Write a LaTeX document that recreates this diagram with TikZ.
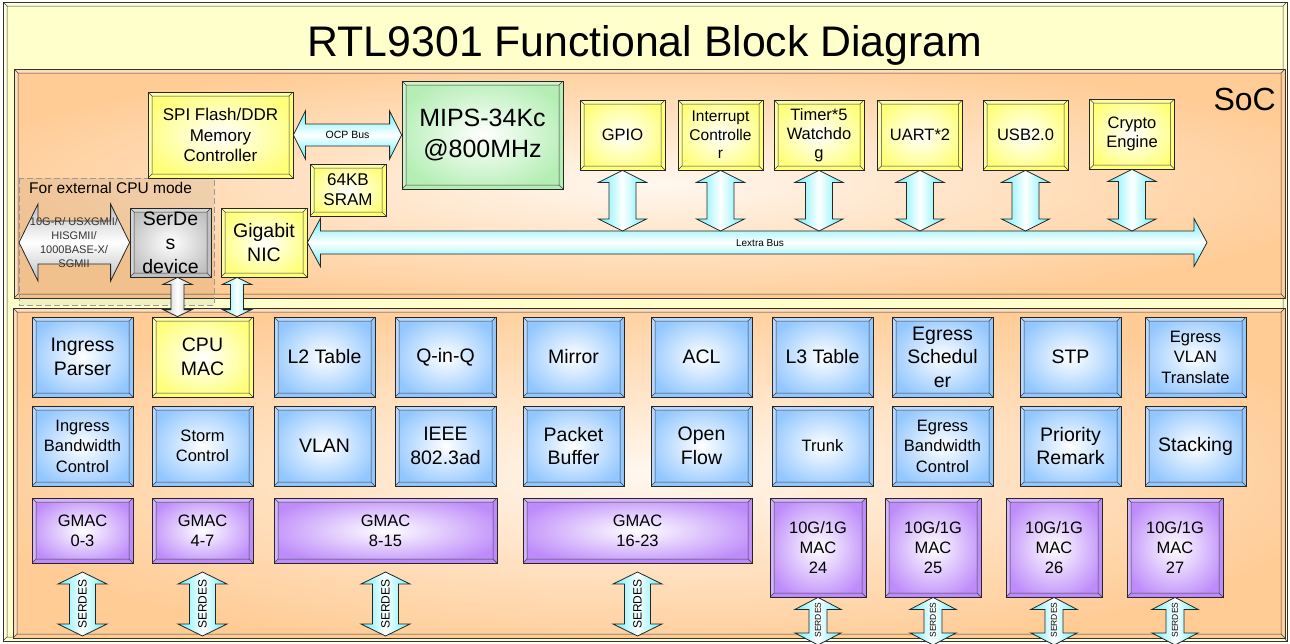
\documentclass[tikz,border=0pt]{standalone}
\usepackage{fontspec}
\setmainfont{Liberation Sans}
\usetikzlibrary{calc}

\definecolor{framey}{RGB}{255,255,204}
\definecolor{socor}{RGB}{255,204,150}
\definecolor{blkblue}{RGB}{145,198,255}
\definecolor{blkyel}{RGB}{255,255,120}
\definecolor{blkpur}{RGB}{190,140,250}
\definecolor{blkgrn}{RGB}{180,238,180}
\definecolor{blkgry}{RGB}{192,192,192}
\definecolor{buscyan}{RGB}{100,240,250}

\colorlet{glowcore}{white}
\colorlet{glowrim}{gray}
\pgfdeclareradialshading[glowcore,glowrim]{glow}{\pgfpointorigin}{color(0bp)=(glowcore); color(28bp)=(glowrim); color(50bp)=(glowrim)}

\newcommand\blkbig{\fontsize{19.5}{23.5}\selectfont}
\newcommand\blkmid{\fontsize{16.5}{20.5}\selectfont}
\newcommand\blksoc{\fontsize{16.5}{19}\selectfont}
\newcommand\blkmac{\fontsize{16.5}{20}\selectfont}

% fat double arrows between two points
\newcommand\vfat[6][]{%
  \path[vbus,#1] let \p1=(#2), \p2=(#3) in
    (\x1,\y1) -- (\x1+#4,\y1-#6) -- (\x1+#5,\y1-#6) -- (\x1+#5,\y2+#6)
    -- (\x1+#4,\y2+#6) -- (\x1,\y2) -- (\x1-#4,\y2+#6) -- (\x1-#5,\y2+#6)
    -- (\x1-#5,\y1-#6) -- (\x1-#4,\y1-#6) -- cycle;}
\newcommand\hfat[6][]{%
  \path[hbus,#1] let \p1=(#2), \p2=(#3) in
    (\x1,\y1) -- (\x1+#6,\y1+#4) -- (\x1+#6,\y1+#5) -- (\x2-#6,\y1+#5)
    -- (\x2-#6,\y1+#4) -- (\x2,\y1) -- (\x2-#6,\y1-#4) -- (\x2-#6,\y1-#5)
    -- (\x1+#6,\y1-#5) -- (\x1+#6,\y1-#4) -- cycle;}

\begin{document}
\begin{tikzpicture}[x=1pt,y=-1pt,
  bevel/.style={path picture={
    \fill[glowrim,even odd rule] (path picture bounding box.south west) rectangle (path picture bounding box.north east)
      ([shift={(4pt,4pt)}]path picture bounding box.south west) rectangle ([shift={(-4pt,-4pt)}]path picture bounding box.north east);
    \fill[white,opacity=.35] (path picture bounding box.south west) -- ++(4pt,4pt) |- ([shift={(-4pt,-4pt)}]path picture bounding box.north east)
      -- (path picture bounding box.north east) -| cycle;
    \draw[black!75,line width=0.5pt]
      ([shift={(4pt,4pt)}]path picture bounding box.south west) rectangle ([shift={(-4pt,-4pt)}]path picture bounding box.north east)
      (path picture bounding box.south west) -- ++(4pt,4pt)
      (path picture bounding box.south east) -- ++(-4pt,4pt)
      (path picture bounding box.north west) -- ++(4pt,-4pt)
      (path picture bounding box.north east) -- ++(-4pt,-4pt);}},
  glowfill/.style 2 args={/utils/exec={\colorlet{glowcore}{#1}\colorlet{glowrim}{#2}},shade,shading=glow},
  sz/.style 2 args={minimum width=#1,minimum height=#2},
  blk/.style={draw=black!85,line width=0.8pt,inner sep=0pt,align=center,font=\blkbig,bevel},
  bblk/.style={blk,glowfill={white}{blkblue},sz={101}{80}},
  yblk/.style={blk,glowfill={white}{blkyel}},
  pblk/.style={blk,glowfill={white}{blkpur},font=\blkmac},
  gblk/.style={blk,glowfill={white}{blkgrn}},
  sblk/.style={blk,glowfill={white}{blkgry}},
  topblk/.style={yblk,sz={85}{70},font=\blksoc},
  region/.style={draw=black!80,line width=0.8pt,bevel},
  vbus/.style={draw=black!85,line width=0.8pt,left color=buscyan,right color=buscyan,middle color=white},
  hbus/.style={draw=black!85,line width=0.8pt,top color=buscyan,bottom color=buscyan,middle color=white},
  gvbus/.style={left color=blkgry,right color=blkgry,middle color=white},
  ghbus/.style={top color=blkgry,bottom color=blkgry,middle color=white},
  buslbl/.style={inner sep=0pt,font=\fontsize{10.5}{12}\selectfont},
  sdlbl/.style={inner sep=0pt,rotate=90,font=\fontsize{12}{14}\selectfont},
  extbox/.style={draw=gray!80,dash pattern=on 6pt off 3pt,fill=black,fill opacity=.06}]
\useasboundingbox (0,0) rectangle (1290,643);

\path[region,glowfill={framey}{framey}] (3,2) rectangle (1287,641);
\node[anchor=base,inner sep=0pt,font=\fontsize{42.8}{48}\selectfont] (title) at (645,56) {RTL9301 Functional Block Diagram};

\path[region,glowfill={socor!15!white}{socor}] (14,69) rectangle (1285,298);
\path[region,glowfill={socor!15!white}{socor}] (13,308) rectangle (1285,638);
\node[anchor=base east,inner sep=0pt,font=\fontsize{32}{36}\selectfont] (soc) at (1276,110) {SoC};

\draw[extbox] (19,178) rectangle (214,305);
\node[anchor=base west,inner sep=0pt,font=\fontsize{15.5}{18}\selectfont] (extcpu) at (29,193) {For external CPU mode};

\node[yblk,sz={145}{86},font=\fontsize{17}{20.5}\selectfont] (spi) at (220.5,135) {SPI Flash/DDR\\Memory\\Controller};
\node[gblk,sz={161}{108},font=\fontsize{25}{31}\selectfont] (mips) at (482.5,135) {MIPS-34Kc\\@800MHz};
\node[yblk,sz={76}{52},font=\fontsize{17}{20}\selectfont] (sram) at (348,190) {64KB\\SRAM};
\node[yblk,sz={86}{69}] (nic) at (264,242.5) {Gigabit\\NIC};
\node[sblk,sz={81}{69},label={[font=\fontsize{19.5}{24}\selectfont,align=center]center:SerDe\\s\\device}] (serdes) at (170.5,242.5) {};

\node[topblk] (gpio) at (622.5,135) {GPIO};
\node[topblk,font=\fontsize{15.5}{18.5}\selectfont] (irq) at (720.5,135) {Interrupt\\Controlle\\r};
\node[topblk,sz={90}{70},font=\fontsize{16.5}{19}\selectfont] (timer) at (819,135) {Timer*5\\Watchdo\\g};
\node[topblk] (uart) at (920,135) {UART*2};
\node[topblk] (usb) at (1025.5,135) {USB2.0};
\node[topblk] (crypto) at (1132,134) {Crypto\\Engine};

\hfat{spi.east}{mips.west}{24pt}{11pt}{12pt}
\node[buslbl] (ocp) at ($(spi.east)!.5!(mips.west)$) {OCP Bus};

\coordinate (lxend) at (1207,242.5);
\hfat{nic.east}{lxend}{24pt}{11.5pt}{13pt}
\node[buslbl,font=\fontsize{10}{12}\selectfont] (lextra) at (760,243) {Lextra Bus};

\coordinate (bustop) at (0,231);
\foreach \b in {gpio,irq,timer,uart,usb,crypto}
  {\vfat{\b.south}{\b.south |- bustop}{24pt}{13.5pt}{12pt}}

\coordinate (extend) at (19,242.5);
\hfat[ghbus]{extend}{serdes.west}{38.5pt}{21.5pt}{19pt}
\node[inner sep=0pt,align=center,text=black!80,font=\fontsize{11}{14}\selectfont] (extif) at (74,243) {10G-R/ USXGMII/\\HISGMII/\\1000BASE-X/\\SGMII};

\node[bblk] (ingp) at (82.5,357) {Ingress\\Parser};
\node[yblk,sz={101}{80}] (cpumac) at (202.5,357) {CPU\\MAC};
\node[bblk] (l2) at (324.5,357) {L2 Table};
\node[bblk] (qinq) at (445.5,357) {Q-in-Q};
\node[bblk] (mirror) at (573.5,357) {Mirror};
\node[bblk] (acl) at (701.5,357) {ACL};
\node[bblk] (l3) at (822.5,357) {L3 Table};
\node[bblk] (egsch) at (942.5,357) {Egress\\Schedul\\er};
\node[bblk] (stp) at (1070.5,357) {STP};
\node[bblk,font=\blkmid] (egvlan) at (1195.5,357) {Egress\\VLAN\\Translate};

\node[bblk,font=\blkmid] (ingbw) at (82.5,446) {Ingress\\Bandwidth\\Control};
\node[bblk,font=\blkmid] (storm) at (202.5,446) {Storm\\Control};
\node[bblk] (vlan) at (324.5,446) {VLAN};
\node[bblk] (ieee) at (445.5,446) {IEEE\\802.3ad};
\node[bblk] (pktbuf) at (573.5,446) {Packet\\Buffer};
\node[bblk] (oflow) at (701.5,446) {Open\\Flow};
\node[bblk,font=\blkmid] (trunk) at (822.5,446) {Trunk};
\node[bblk,font=\blkmid] (egbw) at (942.5,446) {Egress\\Bandwidth\\Control};
\node[bblk] (prio) at (1070.5,446) {Priority\\Remark};
\node[bblk] (stack) at (1195.5,446) {Stacking};

\node[pblk,sz={101}{65}] (g03) at (82.5,530.5) {GMAC\\0-3};
\node[pblk,sz={101}{65}] (g47) at (202.5,530.5) {GMAC\\4-7};
\node[pblk,sz={223}{65}] (g815) at (385.5,530.5) {GMAC\\8-15};
\node[pblk,sz={229}{65}] (g1623) at (637.5,530.5) {GMAC\\16-23};
\node[pblk,sz={96}{99}] (x24) at (818,547.5) {10G/1G\\MAC\\24};
\node[pblk,sz={96}{99}] (x25) at (933,547.5) {10G/1G\\MAC\\25};
\node[pblk,sz={96}{99}] (x26) at (1054,547.5) {10G/1G\\MAC\\26};
\node[pblk,sz={96}{99}] (x27) at (1175,547.5) {10G/1G\\MAC\\27};

\coordinate (sdx) at ([xshift=7pt]serdes.south);
\coordinate (nicx) at ([xshift=-27pt]nic.south);
\vfat[gvbus]{sdx}{sdx |- cpumac.north}{14.5pt}{6.5pt}{7pt}
\vfat{nicx}{nicx |- cpumac.north}{14.5pt}{6.5pt}{7pt}

\coordinate (sdtop) at (0,572);
\coordinate (sdbot) at (0,636);
\coordinate (sdmid) at (0,604);
\foreach \g in {g03,g47,g815,g1623}
  {\vfat{\g.south |- sdtop}{\g.south |- sdbot}{24.5pt}{13pt}{12pt}
   \node[sdlbl] (sd\g) at (\g.south |- sdmid) {SERDES};}

\coordinate (xbot) at (0,645);
\coordinate (xmid) at (0,620);
\foreach \g in {x24,x25,x26,x27}
  {\vfat{\g.south}{\g.south |- xbot}{23pt}{9pt}{12pt}
   \node[sdlbl,font=\fontsize{8.5}{10}\selectfont] (sd\g) at (\g.south |- xmid) {SERDES};}
\end{tikzpicture}
\end{document}
